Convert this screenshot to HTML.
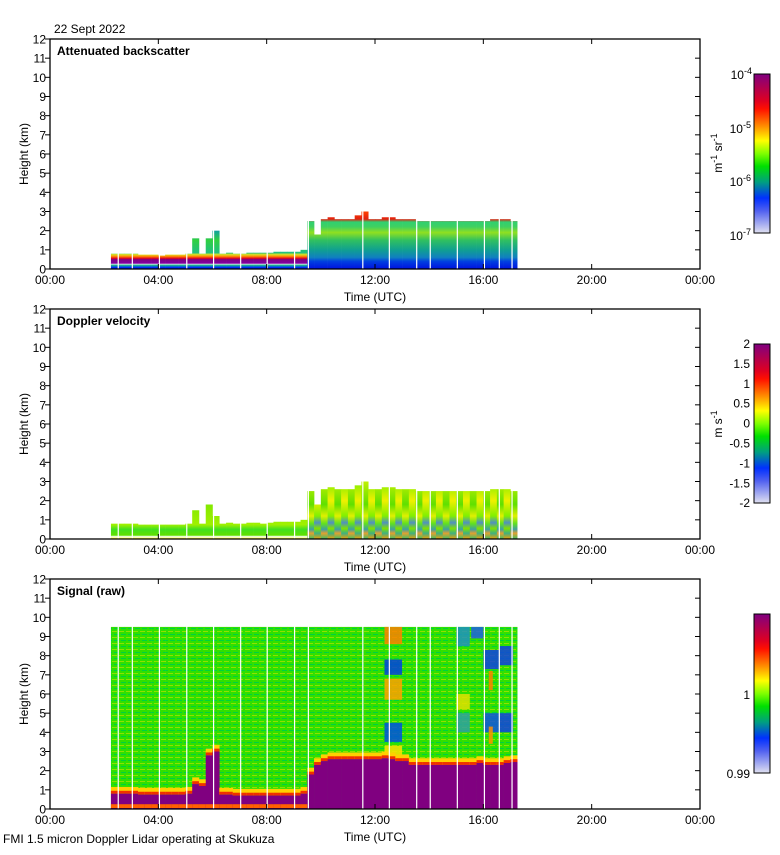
<!DOCTYPE html>
<html><head><meta charset="utf-8"><style>
body{margin:0;background:#fff;font-family:"Liberation Sans",sans-serif}
svg text{font-family:"Liberation Sans",sans-serif;font-size:12px;fill:#000}
</style></head><body>
<svg id="c" width="780" height="850" xmlns="http://www.w3.org/2000/svg">
<defs>
<linearGradient id="cbar" x1="0" y1="0" x2="0" y2="1">
<stop offset="0" stop-color="#800080"/><stop offset="0.17" stop-color="#e00020"/><stop offset="0.22" stop-color="#ff1000"/>
<stop offset="0.33" stop-color="#ff9000"/><stop offset="0.42" stop-color="#ffff00"/><stop offset="0.5" stop-color="#80ff00"/>
<stop offset="0.58" stop-color="#00e000"/><stop offset="0.68" stop-color="#00a080"/><stop offset="0.78" stop-color="#0030ff"/>
<stop offset="0.86" stop-color="#5060f0"/><stop offset="1" stop-color="#e0e0f0"/></linearGradient>
<pattern id="tex" width="7" height="6" patternUnits="userSpaceOnUse">
<rect width="7" height="6" fill="#30e000"/><rect y="1" width="5" height="1" fill="#90e000"/><rect x="2" y="4" width="5" height="1" fill="#00d040"/></pattern>
</defs>
</svg>
<script>
const hours=[2.25,2.5,2.75,3,3.25,3.5,3.75,4,4.25,4.5,4.75,5,5.25,5.5,5.75,6,6.25,6.5,6.75,7,7.25,7.5,7.75,8,8.25,8.5,8.75,9,9.25,9.5,9.75,10,10.25,10.5,10.75,11,11.25,11.5,11.75,12,12.25,12.5,12.75,13,13.25,13.5,13.75,14,14.25,14.5,14.75,15,15.25,15.5,15.75,16,16.25,16.5,16.75,17];
const backscatterTop=[0.8,0.8,0.8,0.8,0.75,0.75,0.75,0.7,0.75,0.75,0.75,0.8,1.6,0.8,1.6,2.0,0.8,0.85,0.8,0.8,0.85,0.85,0.85,0.85,0.9,0.9,0.9,0.9,1.0,2.5,1.8,2.6,2.7,2.6,2.6,2.6,2.8,3.0,2.6,2.6,2.7,2.7,2.6,2.6,2.6,2.5,2.5,2.5,2.5,2.5,2.5,2.5,2.5,2.5,2.5,2.5,2.6,2.6,2.6,2.5];
const velocityTop=[0.8,0.8,0.8,0.8,0.75,0.75,0.75,0.75,0.75,0.75,0.75,0.8,1.5,0.8,1.8,1.2,0.8,0.85,0.8,0.8,0.85,0.85,0.8,0.85,0.9,0.9,0.9,0.9,1.0,2.5,1.8,2.6,2.7,2.6,2.6,2.6,2.8,3.0,2.6,2.6,2.7,2.7,2.6,2.6,2.6,2.5,2.5,2.5,2.5,2.5,2.5,2.5,2.5,2.5,2.5,2.5,2.6,2.6,2.6,2.5];
const boundaryTop=[0.8,0.8,0.8,0.8,0.75,0.75,0.75,0.75,0.75,0.75,0.75,0.8,1.3,1.2,2.8,3.0,0.75,0.75,0.7,0.7,0.7,0.7,0.7,0.7,0.7,0.7,0.7,0.7,0.8,1.8,2.3,2.5,2.6,2.6,2.6,2.6,2.6,2.6,2.6,2.6,2.65,2.6,2.5,2.5,2.3,2.3,2.3,2.3,2.3,2.3,2.3,2.3,2.3,2.3,2.4,2.3,2.3,2.3,2.4,2.45];
const gapHours=[2.52,3.04,4.04,5.05,6.04,7.04,8.02,9.03,9.54,11.55,12.53,13.54,14.04,15.04,16.04,16.59,17.06];
const signalTop=9.5;
const featH0=[12.35,12.35,12.35,12.35,12.35,15.0,15.0,15.0,15.55,16.0,16.0,16.6,16.6,16.2,16.2];
const featH1=[13.0,13.0,13.0,13.0,13.0,15.5,15.5,15.5,16.0,16.6,16.6,17.1,17.1,16.35,16.35];
const featK0=[8.6,7.0,5.7,3.5,2.8,8.5,5.2,4.0,8.9,7.3,4.0,7.5,4.0,6.2,3.4];
const featK1=[9.5,7.8,6.8,4.5,3.3,9.5,6.0,5.0,9.5,8.3,5.0,8.5,5.0,7.2,4.3];
const featC=["#ff8000","#0040e0","#ffa000","#0050e0","#ffe000","#2090c0","#e0e000","#30a0a0","#2060e0","#1040e0","#1050e0","#1040e0","#1040e0","#ff8000","#ff9000"];
const xTicks=["00:00","04:00","08:00","12:00","16:00","20:00","00:00"];
const yTicks=[0,1,2,3,4,5,6,7,8,9,10,11,12];

const svg=document.getElementById('c');const NS='http://www.w3.org/2000/svg';
const L=50,R=700,H=230;
const xs=h=>L+h*(R-L)/24;
function ys(top,k){return top+H-k*H/12;}
function el(t,a,p){const e=document.createElementNS(NS,t);for(const k in a)e.setAttribute(k,a[k]);(p||svg).appendChild(e);return e;}
function grad(id,top,stops){const d=svg.querySelector('defs');const g=el('linearGradient',{id:id,gradientUnits:'userSpaceOnUse',x1:0,x2:0,y1:ys(top,0),y2:ys(top,3)},d);
stops.forEach(s=>el('stop',{offset:s[0]/3,'stop-color':s[1]},g));}
const tops=[39,309,579];
grad('bsE',39,[[0,'#0020e0'],[0.12,'#0030ff'],[0.14,'#10a0a0'],[0.22,'#20b090'],[0.25,'#fff'],[0.3,'#8000a0'],[0.5,'#800080'],[0.55,'#e00020'],[0.65,'#ff8000'],[0.75,'#e0e020'],[0.85,'#20c080'],[1.5,'#30d040'],[2.0,'#10a0a0'],[3,'#e01000']]);
grad('bsL',39,[[0,'#0010e0'],[0.4,'#0040e0'],[0.6,'#1080c0'],[1.0,'#10a090'],[1.5,'#30c060'],[1.9,'#90e020'],[2.2,'#40d060'],[2.45,'#30d070'],[2.6,'#e02010'],[3,'#ff4000']]);
grad('vE',309,[[0,'#ffff00'],[0.12,'#fff'],[0.2,'#60e000'],[0.5,'#40e020'],[0.75,'#a0f000'],[3,'#60e000']]);
grad('vLa',309,[[0,'#40c060'],[0.3,'#e0a030'],[0.5,'#40a0a0'],[0.8,'#60e020'],[1.2,'#e0f000'],[1.8,'#60e000'],[3,'#c0f000']]);
grad('vLb',309,[[0,'#f0a000'],[0.3,'#40b080'],[0.55,'#80e000'],[0.85,'#5090c0'],[1.2,'#80f000'],[2,'#f0f000'],[3,'#80f000']]);

const g1=el('g',{});


const g2=el('g',{});


const g3=el('g',{});


const dw=(R-L)/24*0.25;
hours.forEach((h,i)=>{
  const x=xs(h);
  let r=el('rect',{x:x,y:ys(39,backscatterTop[i]),width:dw+0.3,height:ys(39,0)-ys(39,backscatterTop[i]),fill:h<9.4?'url(#bsE)':'url(#bsL)'},g1);
  
  
  r=el('rect',{x:x,y:ys(309,velocityTop[i]),width:dw+0.3,height:ys(309,0)-ys(309,velocityTop[i]),fill:h<9.4?'url(#vE)':(i%2?'url(#vLa)':'url(#vLb)')},g2);
  
  
  r=el('rect',{x:x,y:ys(579,signalTop),width:dw+0.3,height:ys(579,0)-ys(579,signalTop),fill:'url(#tex)'},g3);
  
  
});
featH0.forEach((h,i)=>{
  const r=el('rect',{x:xs(h),y:ys(579,featK1[i]),width:xs(featH1[i])-xs(h),height:ys(579,featK0[i])-ys(579,featK1[i]),fill:featC[i],opacity:0.85},g3);
  
  
});
hours.forEach((h,i)=>{
  const x=xs(h),t=boundaryTop[i];
  let r=el('rect',{x:x,y:ys(579,t+0.35),width:dw+0.3,height:ys(579,t)-ys(579,t+0.35),fill:'#ffd000'},g3);
  
  
  r=el('rect',{x:x,y:ys(579,t+0.15),width:dw+0.3,height:ys(579,t)-ys(579,t+0.15),fill:'#f03000'},g3);
  
  
  r=el('rect',{x:x,y:ys(579,t),width:dw+0.3,height:ys(579,0)-ys(579,t),fill:'#800080'},g3);
  
  
  if(h<9.3){r=el('rect',{x:x,y:ys(579,0.25),width:dw+0.3,height:ys(579,0.05)-ys(579,0.25),fill:'#ff6000'},g3);
  
  }
});
tops.forEach(t=>gapHours.forEach(h=>{
  const r=el('line',{x1:xs(h),x2:xs(h),y1:t,y2:t+H,stroke:'#fff','stroke-width':1.2});
  
  
}));
const titles=['Attenuated backscatter','Doppler velocity','Signal (raw)'];
tops.forEach((t,p)=>{
  const f=el('rect',{x:L,y:t,width:R-L,height:H,fill:'none',stroke:'#000','stroke-width':1.3});
  
  
  yTicks.forEach(k=>{
    const y=ys(t,k);
    el('line',{x1:L-5,x2:L,y1:y,y2:y,stroke:'#000'});
    el('line',{x1:R-5,x2:R,y1:y,y2:y,stroke:'#000'});
    const tx=el('text',{x:L-4,y:y+4.5,'text-anchor':'end'});tx.textContent=k;
    
    
  });
  xTicks.forEach((s,i)=>{
    const x=xs(i*4);
    el('line',{x1:x,x2:x,y1:t+H-5,y2:t+H,stroke:'#000'});
    el('line',{x1:x,x2:x,y1:t,y2:t+5,stroke:'#000'});
    const tx=el('text',{x:x,y:t+H+15,'text-anchor':'middle'});tx.textContent=s;
    
    
  });
  let tx=el('text',{x:375,y:t+H+32,'text-anchor':'middle'});tx.textContent='Time (UTC)';
  
  
  tx=el('text',{x:0,y:0,'text-anchor':'middle',transform:`translate(28,${t+H/2}) rotate(-90)`});tx.textContent='Height (km)';
  
  
  tx=el('text',{x:57,y:t+16,'font-weight':'bold','font-size':'13'});tx.textContent=titles[p];
  
  
  const cy=t+35;
  const cb=el('rect',{x:754,y:cy,width:16,height:159,fill:'url(#cbar)',stroke:'#000'});
  
  
});
function lab(x,y,s,sup,name){const t=el('text',{x:x,y:y,'text-anchor':'end'});t.textContent=s;
 if(sup){const ts=el('tspan',{dy:-5,'font-size':9},t);ts.textContent=sup;}
 }
const bsLabels=['-4','-5','-6','-7'];
bsLabels.forEach((s,i)=>lab(i==0?752:751,[79,133,186,240][i],'10',s,'colorbar-label'));
const velLabels=['2','1.5','1','0.5','0','-0.5','-1','-1.5','-2'];
velLabels.forEach((s,i)=>lab(750,348+i*19.9,s,null,'colorbar-label'));
lab(750,699,'1',null,'colorbar-label');lab(750,778,'0.99',null,'colorbar-label');
let u=el('text',{x:0,y:0,'text-anchor':'middle',transform:'translate(722,153) rotate(-90)'});u.innerHTML='m<tspan dy="-5" font-size="9">-1</tspan><tspan dy="5"> sr</tspan><tspan dy="-5" font-size="9">-1</tspan>';

u=el('text',{x:0,y:0,'text-anchor':'middle',transform:'translate(722,424) rotate(-90)'});u.innerHTML='m s<tspan dy="-5" font-size="9">-1</tspan>';

let d=el('text',{x:54,y:33});d.textContent='22 Sept 2022';

d=el('text',{x:3,y:843});d.textContent='FMI 1.5 micron Doppler Lidar operating at Skukuza';

</script>
</body></html>
